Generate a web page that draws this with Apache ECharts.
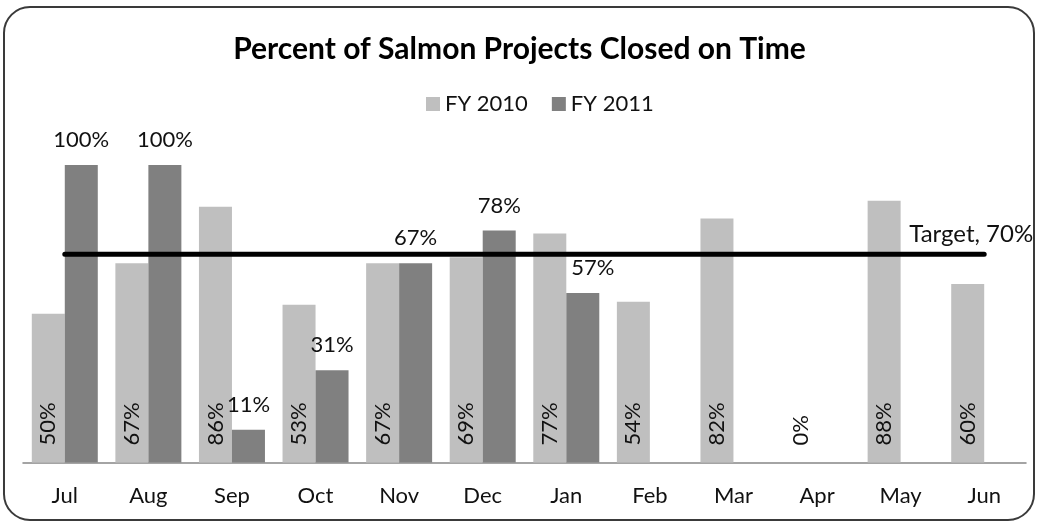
<!DOCTYPE html>
<html>
<head>
<meta charset="utf-8">
<script src="https://cdn.jsdelivr.net/npm/echarts@6/dist/echarts.min.js"></script>
<style>
html,body{margin:0;padding:0;background:#fff;}
#chart{width:1039px;height:524px;}
</style>
</head>
<body>
<div id="chart"></div>
<script>
var months = ['Jul','Aug','Sep','Oct','Nov','Dec','Jan','Feb','Mar','Apr','May','Jun'];
var fy2010 = [50, 67, 86, 53, 67, 69, 77, 54, 82, 0, 88, 60];
var fy2011 = [100, 100, 11, 31, 67, 78, 57, null, null, null, null, null];
var targetValue = 70;
var targetName = 'Target';

var FONT = 'Lato';
var chart = echarts.init(document.getElementById('chart'));

var targetData = months.map(function (m, i) {
  if (i === months.length - 1) {
    return {
      value: targetValue,
      label: {
        show: true,
        position: 'top',
        distance: 7,
        offset: [-13, 0],
        formatter: targetName + ', ' + targetValue + '%',
        fontFamily: FONT,
        fontSize: 24,
        color: '#111111'
      }
    };
  }
  return targetValue;
});

var fy2011Data = fy2011.map(function (v, i) {
  if (months[i] === 'Jan') {
    return { value: v, label: { offset: [10, 0] } };
  }
  return v;
});

chart.setOption({
  animation: false,
  backgroundColor: '#ffffff',
  textStyle: { fontFamily: FONT },
  title: {
    text: 'Percent of Salmon Projects Closed on Time',
    left: 'center',
    top: 29,
    textStyle: { fontFamily: FONT, fontWeight: 'bold', fontSize: 30, color: '#000000' }
  },
  legend: {
    top: 88,
    left: 421,
    itemWidth: 14,
    itemHeight: 14,
    itemGap: 24,
    icon: 'rect',
    data: ['FY 2010', 'FY 2011'],
    textStyle: { fontFamily: FONT, fontSize: 22, color: '#111111' }
  },
  grid: { left: 23, right: 13, top: 165, bottom: 61.5, containLabel: false },
  xAxis: {
    type: 'category',
    data: months,
    axisLine: { show: true, lineStyle: { color: '#868686', width: 1.5 } },
    axisTick: { show: false },
    axisLabel: { margin: 22, fontFamily: FONT, fontSize: 22, color: '#111111', interval: 0 }
  },
  yAxis: {
    type: 'value',
    min: 0,
    max: 100,
    show: false,
    splitLine: { show: false }
  },
  graphic: [{
    type: 'rect',
    shape: { x: 4, y: 7, width: 1030, height: 513, r: 26 },
    style: { fill: 'none', stroke: '#3a3a3a', lineWidth: 2 },
    silent: true,
    z: 100
  }],
  series: [
    {
      name: 'FY 2010',
      type: 'bar',
      data: fy2010,
      barWidth: 33,
      barGap: '0%',
      itemStyle: { color: '#BFBFBF' },
      label: {
        show: true,
        position: 'insideBottom',
        distance: 17,
        rotate: 90,
        align: 'left',
        verticalAlign: 'middle',
        formatter: '{c}%',
        fontFamily: FONT,
        fontSize: 22,
        color: '#111111'
      }
    },
    {
      name: 'FY 2011',
      type: 'bar',
      data: fy2011Data,
      barWidth: 33,
      barGap: '0%',
      itemStyle: { color: '#808080' },
      label: {
        show: true,
        position: 'top',
        distance: 14,
        lineHeight: 22,
        formatter: '{c}%',
        fontFamily: FONT,
        fontSize: 22,
        color: '#111111'
      }
    },
    {
      name: targetName,
      type: 'line',
      data: targetData,
      symbol: 'circle',
      symbolSize: 1,
      showSymbol: true,
      itemStyle: { color: '#000000' },
      lineStyle: { color: '#000000', width: 5, cap: 'round' },
      z: 5
    }
  ]
});
</script>
</body>
</html>
